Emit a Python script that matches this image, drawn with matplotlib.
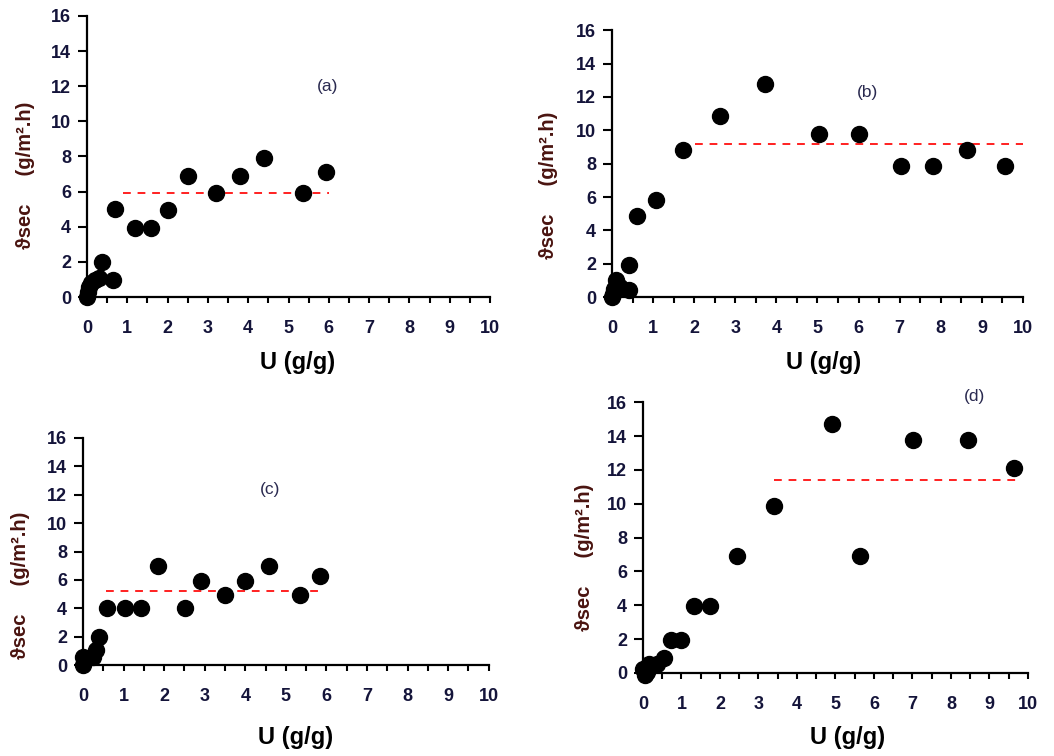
import matplotlib
matplotlib.use("Agg")
import matplotlib.pyplot as plt
from matplotlib.ticker import MultipleLocator

plt.rcParams['font.family'] = ['Liberation Sans', 'DejaVu Sans']

# ---- data ----
xa = [0.0, 0.03, 0.05, 0.1, 0.2, 0.3, 0.38, 0.65, 0.7, 1.2, 1.6, 2.0, 2.5, 3.2, 3.8, 4.4, 5.35, 5.93]
ya = [0.0, 0.3, 0.55, 0.8, 1.0, 1.1, 2.0, 0.95, 5.0, 3.95, 3.95, 4.95, 6.9, 5.9, 6.9, 7.9, 5.9, 7.1]
xa_line = [0.9, 6.0]
ya_line = [5.9, 5.9]

xb = [0.0, 0.02, 0.05, 0.1, 0.2, 0.41, 0.41, 0.6, 1.08, 1.72, 2.62, 3.73, 5.03, 6.0, 7.02, 7.81, 8.64, 9.55]
yb = [0.0, 0.2, 0.5, 1.0, 0.6, 0.4, 1.95, 4.85, 5.8, 8.8, 10.85, 12.75, 9.8, 9.8, 7.85, 7.85, 8.8, 7.85]
xb_line = [2.03, 10.0]
yb_line = [9.2, 9.2]

xc = [0.0, 0.0, 0.08, 0.25, 0.33, 0.39, 0.6, 1.03, 1.44, 1.85, 2.52, 2.92, 3.51, 3.99, 4.58, 5.34, 5.83]
yc = [0.0, 0.6, 0.5, 0.6, 1.05, 2.0, 4.0, 4.0, 4.0, 6.95, 4.0, 5.95, 4.95, 5.95, 6.95, 4.95, 6.25]
xc_line = [0.56, 5.87]
yc_line = [5.25, 5.25]

xd = [0.0, 0.05, 0.1, 0.16, 0.37, 0.54, 0.72, 0.98, 1.32, 1.74, 2.44, 3.41, 4.9, 5.64, 7.02, 8.45, 9.65]
yd = [0.2, -0.1, 0.05, 0.5, 0.5, 0.9, 1.95, 1.95, 3.95, 3.95, 6.9, 9.85, 14.7, 6.9, 13.75, 13.75, 12.1]
xd_line = [3.41, 9.7]
yd_line = [11.42, 11.42]

x_ticks = list(range(0, 11))
y_ticks = list(range(0, 17, 2))

panels = [
    dict(x=xa, y=ya, lx=xa_line, ly=ya_line, tag="(a)", rect=[0.0825, 0.607, 0.3825, 0.372],
         tagpos=(0.311, 0.885), ylab=(0.024, 0.768), xlab=(0.282, 0.521)),
    dict(x=xb, y=yb, lx=xb_line, ly=yb_line, tag="(b)", rect=[0.5806, 0.607, 0.39, 0.353],
         tagpos=(0.823, 0.878), ylab=(0.520, 0.755), xlab=(0.781, 0.521)),
    dict(x=xc, y=yc, lx=xc_line, ly=yc_line, tag="(c)", rect=[0.0787, 0.120, 0.385, 0.301],
         tagpos=(0.256, 0.352), ylab=(0.019, 0.226), xlab=(0.280, 0.024)),
    dict(x=xd, y=yd, lx=xd_line, ly=yd_line, tag="(d)", rect=[0.610, 0.110, 0.3653, 0.358],
         tagpos=(0.925, 0.475), ylab=(0.555, 0.263), xlab=(0.804, 0.024)),
]

fig = plt.figure(figsize=(10.54, 7.56), dpi=100)
for p in panels:
    ax = fig.add_axes(p["rect"])
    ax.plot(p["lx"], p["ly"], color="#ff2020", lw=1.4, ls=(0, (4, 3.5)), zorder=2)
    ax.plot(p["x"], p["y"], "o", color="black", ms=11.5, clip_on=False, zorder=3)
    ax.set_xlim(0, 10)
    ax.set_ylim(0, 16)
    ax.set_xticks(x_ticks)
    ax.set_yticks(y_ticks)
    ax.xaxis.set_minor_locator(MultipleLocator(0.5))
    for s in ("top", "right"):
        ax.spines[s].set_visible(False)
    for s in ("left", "bottom"):
        ax.spines[s].set_linewidth(1.6)
    ax.tick_params(axis="y", which="major", direction="out", length=6.5, width=1.5,
                   labelsize=13, pad=5)
    ax.tick_params(axis="x", which="major", direction="out", length=4.5, width=1.5,
                   labelsize=13, pad=12)
    ax.tick_params(axis="x", which="minor", direction="out", length=4.5, width=1.5)
    for lab in ax.get_xticklabels() + ax.get_yticklabels():
        lab.set_fontweight("bold")
        lab.set_color("#14143a")
    fig.text(p["tagpos"][0], p["tagpos"][1], p["tag"], fontsize=12.5, color="#2a2a50",
             ha="center", va="center")
    fig.text(p["ylab"][0], p["ylab"][1], "ϑsec     (g/m².h)", rotation=90, fontsize=14.5,
             fontweight="bold", color="#4a1410", ha="center", va="center")
    fig.text(p["xlab"][0], p["xlab"][1], "U (g/g)", fontsize=17, fontweight="bold",
             color="black", ha="center", va="center")

fig.savefig("out.png", dpi=100)
